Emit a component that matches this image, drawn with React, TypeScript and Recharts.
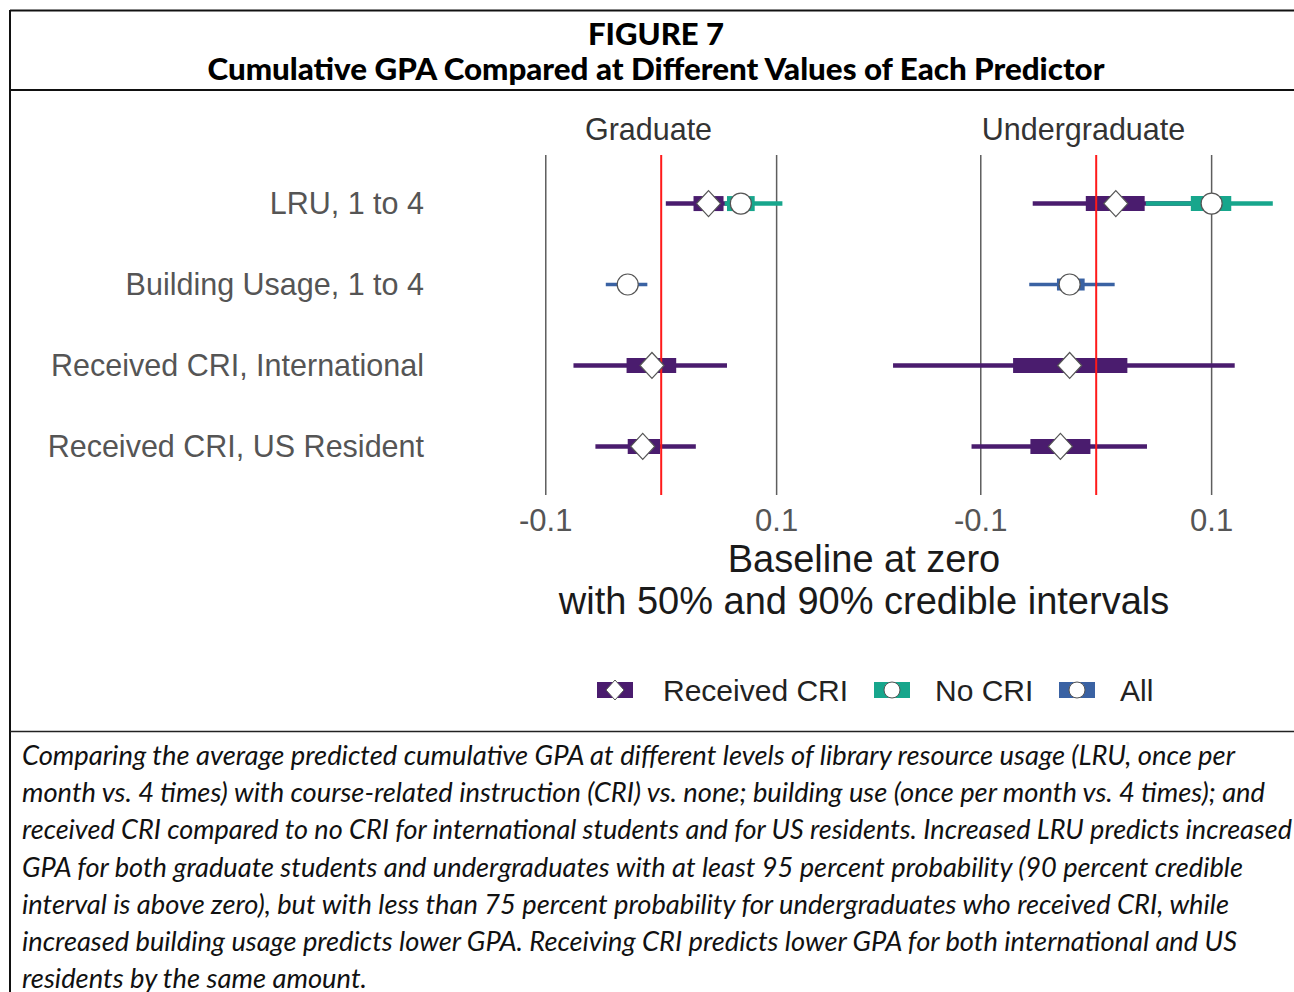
import { ScatterChart, Scatter, XAxis, YAxis, CartesianGrid, ErrorBar, ReferenceLine } from "recharts";

const predictors = ["LRU, 1 to 4", "Building Usage, 1 to 4", "Received CRI, International", "Received CRI, US Resident"];
const xTicks = [-0.1, 0.1];
const xDomain = [-0.1925, 0.1705];

// row, median, 50% low, 50% high, 90% low, 90% high
const gradReceived = [
  [1, 0.041, 0.028, 0.054, 0.004, 0.076],
  [3, -0.008, -0.030, 0.013, -0.076, 0.057],
  [4, -0.016, -0.029, -0.001, -0.057, 0.030],
];
const gradNoCri = [[1, 0.069, 0.057, 0.081, 0.055, 0.105]];
const gradAll = [[2, -0.029, -0.036, -0.022, -0.048, -0.012]];

const ugradReceived = [
  [1, 0.017, -0.009, 0.042, -0.055, 0.085],
  [3, -0.023, -0.072, 0.027, -0.176, 0.120],
  [4, -0.031, -0.057, -0.005, -0.108, 0.044],
];
const ugradNoCri = [[1, 0.100, 0.082, 0.117, 0.043, 0.153]];
const ugradAll = [[2, -0.023, -0.034, -0.010, -0.058, 0.016]];

const legendNames = ["Received CRI", "No CRI", "All"];

const captionLines = [
  "Comparing the average predicted cumulative GPA at different levels of library resource usage (LRU, once per",
  "month vs. 4 times) with course-related instruction (CRI) vs. none; building use (once per month vs. 4 times); and",
  "received CRI compared to no CRI for international students and for US residents. Increased LRU predicts increased",
  "GPA for both graduate students and undergraduates with at least 95 percent probability (90 percent credible",
  "interval is above zero), but with less than 75 percent probability for undergraduates who received CRI, while",
  "increased building usage predicts lower GPA. Receiving CRI predicts lower GPA for both international and US",
  "residents by the same amount.",
];
const captionWidths = [1213, 1243, 1270, 1221, 1207, 1215, 345];

const PURPLE = "#4a1c6e";
const TEAL = "#17a68c";
const BLUE = "#3a62a3";
const FONT = "'Liberation Sans', Arial, sans-serif";

function toPoints(rows: number[][]) {
  return rows.map(([y, m, l50, h50, l90, h90]) => ({
    x: m,
    y,
    e50: [m - l50, h50 - m],
    e90: [m - l90, h90 - m],
  }));
}

function Diamond(props: any) {
  const { cx, cy } = props;
  return (
    <polygon
      points={`${cx},${cy - 13} ${cx + 12},${cy} ${cx},${cy + 13} ${cx - 12},${cy}`}
      fill="#fff"
      stroke="#555"
      strokeWidth={1.2}
    />
  );
}

function Circle(props: any) {
  const { cx, cy } = props;
  return <circle cx={cx} cy={cy} r={10.5} fill="#fff" stroke="#555" strokeWidth={1.2} />;
}

function Panel({ title, received, noCri, all, showLabels, left, width }: any) {
  const plotLeft = showLabels ? 439 : 16;
  return (
    <div style={{ position: "absolute", left, top: 0, width, height: 540 }}>
      <div
        style={{
          position: "absolute",
          left: plotLeft,
          width: width - plotLeft,
          top: 111,
          textAlign: "center",
          fontFamily: FONT,
          fontSize: 30.5,
          color: "#333",
          lineHeight: "36px",
        }}
      >
        {title}
      </div>
      <ScatterChart width={width} height={540} margin={{ top: 155, right: 0, bottom: 0, left: showLabels ? 0 : 16 }} style={{ fontFamily: FONT }}>
        <CartesianGrid horizontal={false} syncWithTicks stroke="#5e5e5e" strokeWidth={1.5} />
        <XAxis
          type="number"
          dataKey="x"
          domain={xDomain}
          ticks={xTicks}
          allowDataOverflow
          axisLine={false}
          tickLine={false}
          height={45}
          tickMargin={8}
          tick={{ fill: "#555", fontSize: 31 }}
          tickFormatter={(v: number) => v.toFixed(1)}
        />
        <YAxis
          type="number"
          dataKey="y"
          domain={[0.4, 4.6]}
          ticks={[1, 2, 3, 4]}
          reversed
          hide={!showLabels}
          width={439}
          axisLine={false}
          tickLine={false}
          tickMargin={9}
          tick={{ fill: "#555", fontSize: 30.5 }}
          tickFormatter={(v: number) => predictors[v - 1]}
        />
        <Scatter data={toPoints(received)} shape={Diamond} isAnimationActive={false}>
          <ErrorBar dataKey="e90" direction="x" width={0} stroke={PURPLE} strokeWidth={4.5} />
          <ErrorBar dataKey="e50" direction="x" width={0} stroke={PURPLE} strokeWidth={15} />
        </Scatter>
        <Scatter data={toPoints(noCri)} shape={Circle} isAnimationActive={false}>
          <ErrorBar dataKey="e90" direction="x" width={0} stroke={TEAL} strokeWidth={4.5} />
          <ErrorBar dataKey="e50" direction="x" width={0} stroke={TEAL} strokeWidth={15} />
        </Scatter>
        <Scatter data={toPoints(all)} shape={Circle} isAnimationActive={false}>
          <ErrorBar dataKey="e90" direction="x" width={0} stroke={BLUE} strokeWidth={3.5} />
          <ErrorBar dataKey="e50" direction="x" width={0} stroke={BLUE} strokeWidth={12} />
        </Scatter>
        <ReferenceLine x={0} stroke="#ff1a1a" strokeWidth={2} />
      </ScatterChart>
    </div>
  );
}

function LegendKey({ x, color, diamond }: { x: number; color: string; diamond: boolean }) {
  const cx = x + 18;
  const cy = 690;
  return (
    <g>
      <rect x={x} y={cy - 8} width={36} height={16} fill={color} />
      {diamond ? (
        <polygon points={`${cx},${cy - 10} ${cx + 9},${cy} ${cx},${cy + 10} ${cx - 9},${cy}`} fill="#fff" stroke="#555" strokeWidth={1} />
      ) : (
        <circle cx={cx} cy={cy} r={8} fill="#fff" stroke="#555" strokeWidth={1} />
      )}
    </g>
  );
}

export default function App() {
  return (
    <div style={{ position: "absolute", left: 0, top: 0, width: 1294, height: 992, background: "#fff", overflow: "hidden" }}>
      <Panel title="Graduate" received={gradReceived} noCri={gradNoCri} all={gradAll} showLabels left={0} width={858} />
      <Panel title="Undergraduate" received={ugradReceived} noCri={ugradNoCri} all={ugradAll} showLabels={false} left={858} width={435} />
      <svg width={1294} height={992} style={{ position: "absolute", left: 0, top: 0, pointerEvents: "none" }}>
        {/* frame */}
        <line x1={10} y1={10.5} x2={1294} y2={10.5} stroke="#111" strokeWidth={2} />
        <line x1={10} y1={10} x2={10} y2={992} stroke="#111" strokeWidth={2} />
        <line x1={10} y1={90} x2={1294} y2={90} stroke="#111" strokeWidth={2} />
        <line x1={10} y1={731.5} x2={1294} y2={731.5} stroke="#222" strokeWidth={1.5} />
        {/* title */}
        <text x={656} y={45} textAnchor="middle" fontFamily="Lato, 'Open Sans', sans-serif" fontWeight={900} fontSize={31} fill="#000" textLength={136} lengthAdjust="spacingAndGlyphs">
          FIGURE 7
        </text>
        <text x={656} y={80} textAnchor="middle" fontFamily="Lato, 'Open Sans', sans-serif" fontWeight={900} fontSize={31} fill="#000" textLength={897} lengthAdjust="spacingAndGlyphs">
          Cumulative GPA Compared at Different Values of Each Predictor
        </text>
        {/* axis title */}
        <text x={864} y={572} textAnchor="middle" fontFamily={FONT} fontSize={38} fill="#1a1a1a">
          Baseline at zero
        </text>
        <text x={864} y={614} textAnchor="middle" fontFamily={FONT} fontSize={38} fill="#1a1a1a">
          with 50% and 90% credible intervals
        </text>
        {/* legend */}
        <LegendKey x={597} color={PURPLE} diamond />
        <text x={663} y={701} fontFamily={FONT} fontSize={30} fill="#222">{legendNames[0]}</text>
        <LegendKey x={874} color={TEAL} diamond={false} />
        <text x={935} y={701} fontFamily={FONT} fontSize={30} fill="#222">{legendNames[1]}</text>
        <LegendKey x={1059} color={BLUE} diamond={false} />
        <text x={1120} y={701} fontFamily={FONT} fontSize={30} fill="#222">{legendNames[2]}</text>
        {/* caption */}
        {captionLines.map((line, i) => (
          <text
            key={i}
            x={22}
            y={765 + i * 37.2}
            fontFamily="Lato, 'Open Sans', sans-serif"
            fontStyle="italic"
            fontSize={27}
            fill="#111"
            textLength={captionWidths[i]}
            lengthAdjust="spacingAndGlyphs"
          >
            {line}
          </text>
        ))}
      </svg>
    </div>
  );
}
